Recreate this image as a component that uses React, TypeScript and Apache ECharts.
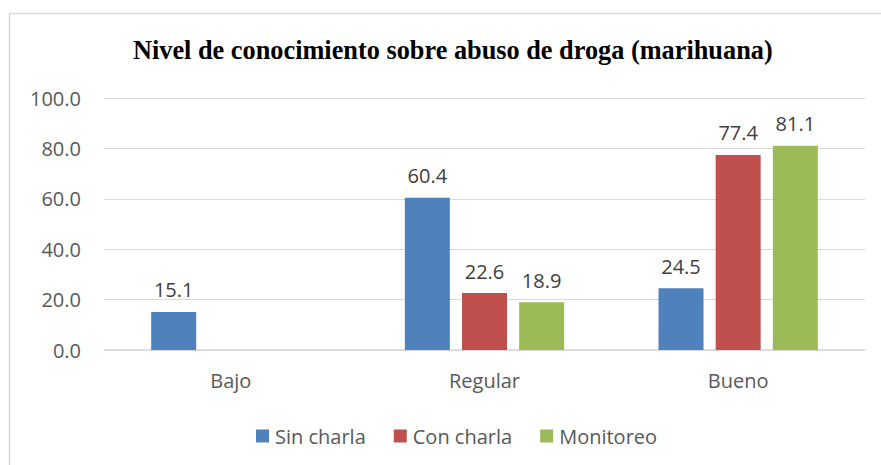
import React, { useEffect, useRef } from "react";
import * as echarts from "echarts";

const categories = ["Bajo", "Regular", "Bueno"];
const sinCharla = [15.1, 60.4, 24.5];
const conCharla = [null, 22.6, 77.4];
const monitoreo = [null, 18.9, 81.1];
const seriesNames = ["Sin charla", "Con charla", "Monitoreo"];
const colors = ["#4F81BD", "#C0504D", "#9BBB59"];

export default function App() {
  const ref = useRef<HTMLDivElement>(null);
  useEffect(() => {
    const chart = echarts.init(ref.current!, null, { renderer: "svg" });
    const font = "'Open Sans', 'Liberation Sans', sans-serif";
    const data = [sinCharla, conCharla, monitoreo];
    chart.setOption({
      animation: false,
      title: {
        text: "Nivel de conocimiento sobre abuso de droga (marihuana)",
        left: 128,
        top: 32,
        textStyle: {
          fontFamily: "'Liberation Serif', 'Times New Roman', serif",
          fontWeight: "bold",
          fontSize: 26.3,
          color: "#000",
        },
      },
      graphic: [
        {
          type: "rect",
          shape: { x: 9.5, y: 13.5, width: 900, height: 500 },
          style: { fill: "none", stroke: "#D9D9D9", lineWidth: 1.5 },
          silent: true,
        },
      ],
      legend: {
        top: 421,
        left: 251,
        itemWidth: 13,
        itemHeight: 13,
        itemGap: 28,
        icon: "rect",
        textStyle: { fontFamily: font, fontSize: 20, color: "#595959", padding: [0, 0, 0, 1] },
        data: seriesNames,
      },
      grid: { left: 104, right: 16, top: 98, bottom: 115, containLabel: false },
      xAxis: {
        type: "category",
        data: categories,
        axisLine: { lineStyle: { color: "#D9D9D9", width: 1.5 } },
        axisTick: { show: false },
        axisLabel: { fontFamily: font, fontSize: 20, color: "#595959", margin: 20 },
      },
      yAxis: {
        type: "value",
        min: 0,
        max: 100,
        interval: 20,
        axisLine: { show: false },
        axisTick: { show: false },
        splitLine: { lineStyle: { color: "#D9D9D9", width: 1 } },
        axisLabel: {
          fontFamily: font,
          fontSize: 20,
          color: "#595959",
          margin: 23,
          formatter: (v: number) => v.toFixed(1),
        },
      },
      series: data.map((d, i) => ({
        name: seriesNames[i],
        type: "bar",
        data: d,
        barWidth: 45,
        barGap: "27%",
        itemStyle: { color: colors[i] },
        label: {
          show: true,
          position: "top",
          distance: 12,
          fontFamily: font,
          fontSize: 20,
          color: "#404040",
          formatter: (p: any) => (p.value == null ? "" : Number(p.value).toFixed(1)),
        },
      })),
    });
    return () => chart.dispose();
  }, []);
  return (
    <div
      ref={ref}
      style={{ position: "absolute", left: 0, top: 0, width: 881, height: 465 }}
    />
  );
}
